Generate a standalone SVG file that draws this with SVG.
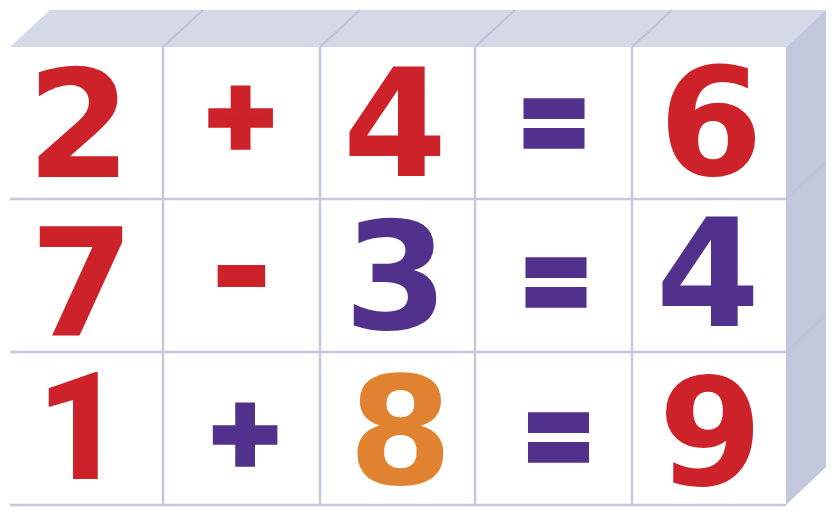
<svg xmlns="http://www.w3.org/2000/svg" width="839" height="525" viewBox="0 0 839 525">
<style>
.top{fill:#D4D8E7}
.side{fill:#C2C7DC}
.front{fill:#FFFFFF}
.grid{stroke:#C3C8DC;stroke-width:2.5;fill:none}
.seam{stroke:#BEC3D8;stroke-width:2;fill:none}
.d{font-family:"DejaVu Sans",sans-serif;font-weight:bold;font-size:150px;text-anchor:middle}
.one{font-family:Roboto,"Liberation Sans",sans-serif;font-weight:900;font-size:150px;text-anchor:middle}
.plus{font-family:"DejaVu Sans",sans-serif;font-weight:bold;font-size:88px;text-anchor:middle;stroke-width:9.5;stroke-linejoin:miter}
.minus{font-family:"DejaVu Sans",sans-serif;font-weight:bold;font-size:155px;text-anchor:middle}
.eq{font-family:"DejaVu Sans",sans-serif;font-weight:bold;font-size:110px;text-anchor:middle;stroke-width:4.8;stroke-linejoin:miter}
.red{fill:#CD2229;stroke:#CD2229}
.pur{fill:#51318C;stroke:#51318C}
.org{fill:#E0822F}
.d,.one,.minus{stroke:none}
</style>
<g id="blocks">
<polygon class="top" points="10,47 50,10 826,10 786,47"/>
<polygon class="side" points="786,47 826,10 826,467 786,505"/>
<rect class="front" x="10" y="47" width="776" height="458"/>
</g>
<g id="seams">
<line class="seam" x1="163" y1="47" x2="203" y2="10"/>
<line class="seam" x1="320" y1="47" x2="360" y2="10"/>
<line class="seam" x1="475" y1="47" x2="515" y2="10"/>
<line class="seam" x1="632" y1="47" x2="672" y2="10"/>
<line class="seam" x1="786" y1="199" x2="826" y2="162"/>
<line class="seam" x1="786" y1="352" x2="826" y2="315"/>
<line class="grid" x1="163" y1="47" x2="163" y2="505"/>
<line class="grid" x1="320" y1="47" x2="320" y2="505"/>
<line class="grid" x1="475" y1="47" x2="475" y2="505"/>
<line class="grid" x1="632" y1="47" x2="632" y2="505"/>
<line class="grid" x1="10" y1="199" x2="786" y2="199"/>
<line class="grid" x1="10" y1="352" x2="786" y2="352"/>
<line class="grid" x1="10" y1="505" x2="786" y2="505"/>
</g>
<g id="row1">
<text class="d red" x="79" y="177">2</text>
<text class="plus red" x="240.5" y="144.5">+</text>
<text class="d red" x="395" y="176">4</text>
<text class="eq pur" transform="translate(554,122.5) scale(0.83,1.2)" x="0" y="35.2" vector-effect="non-scaling-stroke">=</text>
<text class="d red" x="711" y="175">6</text>
</g>
<g id="row2">
<text class="d red" x="82" y="336">7</text>
<text class="minus red" x="241.5" y="321">-</text>
<text class="d pur" x="396" y="329">3</text>
<text class="eq pur" transform="translate(556,281.5) scale(0.83,1.2)" x="0" y="35.2" vector-effect="non-scaling-stroke">=</text>
<text class="d pur" x="708" y="326">4</text>
</g>
<g id="row3">
<text class="one red" x="80" y="479">1</text>
<text class="plus pur" x="245" y="462">+</text>
<text class="d org" x="400.5" y="484">8</text>
<text class="eq pur" transform="translate(558.5,436.5) scale(0.83,1.2)" x="0" y="35.2" vector-effect="non-scaling-stroke">=</text>
<text class="d red" x="710.5" y="485">9</text>
</g>
</svg>
